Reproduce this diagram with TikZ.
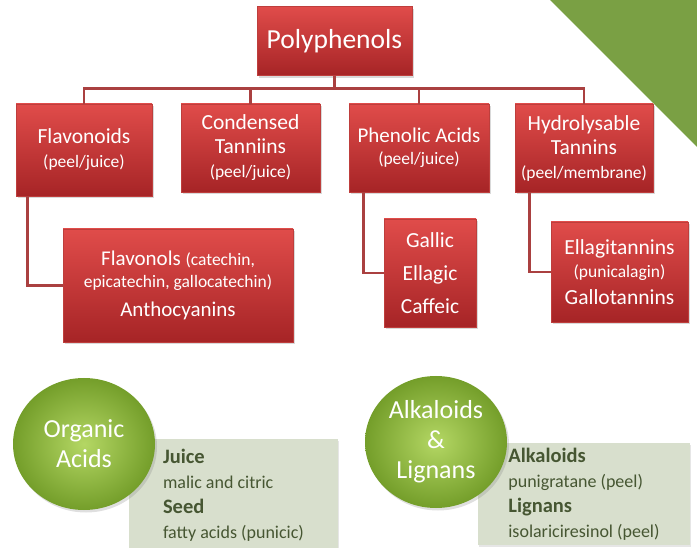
\documentclass[tikz,border=0pt]{standalone}
\usepackage{fontspec}
\setmainfont{Carlito}
\usetikzlibrary{shadows,shapes.geometric}

\definecolor{boxtop}{RGB}{224,76,74}
\definecolor{boxbottom}{RGB}{166,36,38}
\definecolor{boxedge}{RGB}{190,62,60}
\definecolor{linkred}{RGB}{170,64,64}
\definecolor{cornergreen}{RGB}{122,160,68}
\definecolor{balllight}{RGB}{180,215,100}
\definecolor{balldark}{RGB}{116,158,42}
\definecolor{notefill}{RGB}{216,223,205}
\definecolor{notetext}{RGB}{70,86,50}

\newcommand{\subtxt}[1]{{\fontsize{17.5}{24}\selectfont #1}}

\begin{document}
\begin{tikzpicture}[x=1pt,y=-1pt,
            every node/.style={align=center},
            category/.style={draw=boxedge,thin,top color=boxtop,bottom color=boxbottom,text=white,
                inner sep=2pt,font=\fontsize{21.5}{24}\selectfont,
                drop shadow={opacity=.3,shadow xshift=1.5pt,shadow yshift=-2.5pt}},
            group/.style={ellipse,minimum width=142pt,minimum height=132pt,inner sep=0pt,
                shading=radial,inner color=balllight,outer color=balldark,text=white,
                font=\fontsize{26}{30}\selectfont,
                drop shadow={opacity=.25,shadow xshift=2pt,shadow yshift=-2.5pt}},
            note/.style={fill=notefill,text=notetext,align=left,inner sep=0pt,
                font=\fontsize{18}{25}\selectfont,
                drop shadow={opacity=.2,shadow xshift=1pt,shadow yshift=-1.5pt}},
            link/.style={draw=linkred,line width=2.8pt}]

            \useasboundingbox (0,0) rectangle (697,548);
            \fill[cornergreen] (550,0) -- (697,0) -- (697,147) -- cycle;

            % polyphenols tree
            \node[category,minimum width=155pt,minimum height=69pt,font=\fontsize{27.5}{30}\selectfont] (poly) at (334.5,41) {Polyphenols};
            \node[category,minimum width=136pt,minimum height=92pt] (flav) at (84,150) {Flavonoids\\\subtxt{(peel/juice)}};
            \node[category,minimum width=139pt,minimum height=88pt] (cond) at (250.5,148) {Condensed\\Tanniins\\\subtxt{(peel/juice)}};
            \node[category,minimum width=140pt,minimum height=88pt,font=\fontsize{21}{22}\selectfont] (phen) at (419,148) {Phenolic Acids\\\subtxt{(peel/juice)}};
            \node[category,minimum width=138pt,minimum height=88pt] (hydro) at (584,148) {Hydrolysable\\Tannins\\\subtxt{(peel/membrane)}};

            \node[category,minimum width=230pt,minimum height=113pt,font=\fontsize{21}{22}\selectfont] (flavonols) at (178,285.5)
                {Flavonols \subtxt{(catechin,}\\\subtxt{epicatechin, gallocatechin)}\\[7pt]Anthocyanins};
            \node[category,minimum width=92pt,minimum height=108pt,font=\fontsize{21.5}{33}\selectfont] (acids) at (430,273) {Gallic\\Ellagic\\Caffeic};
            \node[category,minimum width=137pt,minimum height=100pt,font=\fontsize{21.5}{23}\selectfont] (ellag) at (619.5,272)
                {Ellagitannins\\\subtxt{(punicalagin)}\\[4pt]Gallotannins};

            \foreach \n in {flav,cond,phen,hydro}
                \draw[link] (poly.south) -- ++(0,13) -| (\n.north);
            \draw[link] ([xshift=12pt]flav.south west) |- (flavonols.west);
            \draw[link] ([xshift=15pt]phen.south west) |- (acids.west);
            \draw[link] ([xshift=15pt]hydro.south west) |- (ellag.west);

            % other compounds
            \node[note,minimum width=209pt,minimum height=112pt] (juicebox) at (233.5,495)
                {\textbf{\fontsize{20.5}{25}\selectfont Juice}\\malic and citric\\\textbf{\fontsize{20.5}{25}\selectfont Seed}\\fatty acids (punicic)};
            \node[note,minimum width=212pt,minimum height=102pt] (peelbox) at (584,494)
                {\textbf{\fontsize{20.5}{25}\selectfont Alkaloids}\\punigratane (peel)\\\textbf{\fontsize{20.5}{25}\selectfont Lignans}\\isolariciresinol (peel)};
            \node[group] (organic) at (84,444) {Organic\\Acids};
            \node[group] (alkal) at (436,442) {Alkaloids\\\&\\Lignans};
\end{tikzpicture}
\end{document}
